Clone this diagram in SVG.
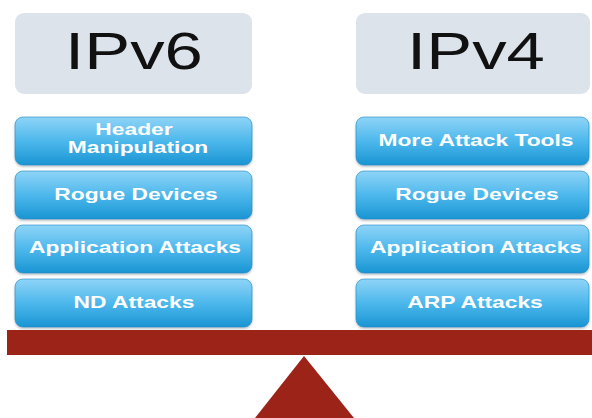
<svg xmlns="http://www.w3.org/2000/svg" width="592" height="418" viewBox="0 0 592 418">
<defs>
<linearGradient id="btn" x1="0" y1="0" x2="0" y2="1">
<stop offset="0" stop-color="#8fd4f7"/>
<stop offset="0.5" stop-color="#4db8ec"/>
<stop offset="1" stop-color="#1a95d3"/>
</linearGradient>
<filter id="sh" x="-5%" y="-10%" width="110%" height="125%">
<feDropShadow dx="0" dy="1.5" stdDeviation="1.2" flood-color="#5a6b78" flood-opacity="0.45"/>
</filter>
</defs>
<style>
.title{fill:#dce3eb}
.ttxt{font-family:"Liberation Sans",Arial,sans-serif;font-size:51px;fill:#111;text-anchor:middle}
.btn{fill:url(#btn);stroke:#1b8cc7;stroke-width:0.6;filter:url(#sh)}
.btxt{font-family:"Liberation Sans",Arial,sans-serif;font-size:16.3px;font-weight:bold;fill:#ffffff;text-anchor:middle}
</style>
<rect width="592" height="418" fill="#ffffff"/>
<g id="ipv6">
<rect class="title" x="15" y="13" width="237" height="81" rx="9"/>
<text class="ttxt" transform="translate(134,69) scale(1.35,1)">IPv6</text>
</g>
<g id="ipv4">
<rect class="title" x="356" y="13" width="234" height="81" rx="9"/>
<text class="ttxt" transform="translate(476,69) scale(1.35,1)">IPv4</text>
</g>
<g id="v6-header">
<rect class="btn" x="15" y="117" width="237" height="48" rx="8"/>
<text class="btxt" transform="translate(134,135) scale(1.4,1)">Header</text>
<text class="btxt" transform="translate(138,153) scale(1.4,1)">Manipulation</text>
</g>
<g id="v6-rogue">
<rect class="btn" x="15" y="171" width="237" height="48" rx="8"/>
<text class="btxt" transform="translate(136,200) scale(1.4,1)">Rogue Devices</text>
</g>
<g id="v6-app">
<rect class="btn" x="15" y="225" width="237" height="48" rx="8"/>
<text class="btxt" transform="translate(135,253) scale(1.4,1)">Application Attacks</text>
</g>
<g id="v6-nd">
<rect class="btn" x="15" y="279" width="237" height="48" rx="8"/>
<text class="btxt" transform="translate(134,308) scale(1.4,1)">ND Attacks</text>
</g>
<g id="v4-tools">
<rect class="btn" x="356" y="117" width="233" height="48" rx="8"/>
<text class="btxt" transform="translate(476,146) scale(1.4,1)">More Attack Tools</text>
</g>
<g id="v4-rogue">
<rect class="btn" x="356" y="171" width="233" height="48" rx="8"/>
<text class="btxt" transform="translate(477,200) scale(1.4,1)">Rogue Devices</text>
</g>
<g id="v4-app">
<rect class="btn" x="356" y="225" width="233" height="48" rx="8"/>
<text class="btxt" transform="translate(476,253) scale(1.4,1)">Application Attacks</text>
</g>
<g id="v4-arp">
<rect class="btn" x="356" y="279" width="233" height="48" rx="8"/>
<text class="btxt" transform="translate(475,308) scale(1.4,1)">ARP Attacks</text>
</g>
<g id="scale">
<rect x="7" y="330" width="585" height="25" fill="#9b2318"/>
<polygon points="304,356 255,418 354,418" fill="#9b2318"/>
</g>
</svg>
